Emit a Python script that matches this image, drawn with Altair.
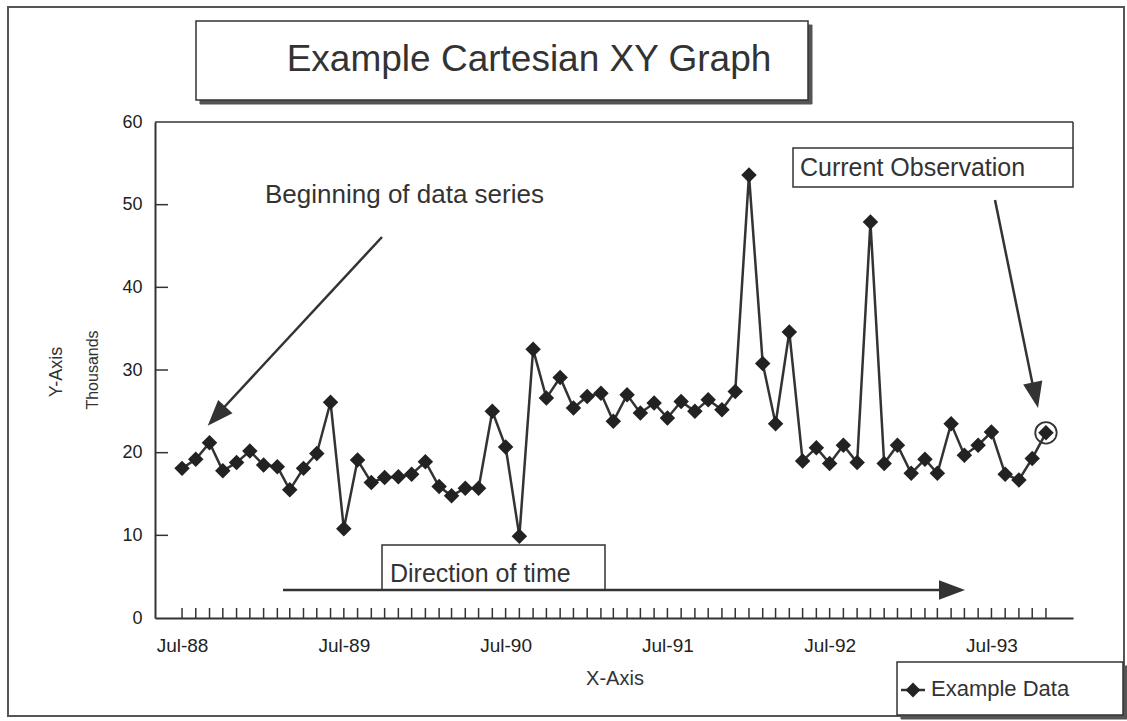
import altair as alt
import pandas as pd

# Monthly observations (thousands), Jul-88 .. Nov-93
values = [
    18.1, 19.2, 21.2, 17.8, 18.8, 20.2, 18.5, 18.3, 15.5, 18.1, 19.9, 26.1,
    10.8, 19.1, 16.4, 17.0, 17.1, 17.4, 18.9, 15.9, 14.8, 15.7, 15.7, 25.0,
    20.7, 9.9, 32.5, 26.6, 29.1, 25.4, 26.8, 27.2, 23.8, 27.0, 24.8, 26.0,
    24.2, 26.2, 25.0, 26.4, 25.2, 27.4, 53.6, 30.8, 23.5, 34.6, 19.0, 20.6,
    18.7, 20.9, 18.8, 47.9, 18.7, 20.9, 17.5, 19.2, 17.5, 23.5, 19.7, 20.9,
    22.5, 17.4, 16.7, 19.3, 22.4,
]
first_month = "1988-07-01"
label_years = [1988, 1989, 1990, 1991, 1992, 1993]
y_ticks = [0, 10, 20, 30, 40, 50, 60]
y_inner_ticks = [10, 20, 30, 40, 50]

months = pd.date_range(first_month, periods=len(values), freq="MS").strftime("%Y-%m-%dT00:00:00")
df = pd.DataFrame({"month": months, "value": values})
last = df.tail(1)

W, H = 918, 496
INK = "#333333"
FONT = "Liberation Sans"

one = alt.Data(values=[{"k": 0}])

x_enc = alt.X(
    "month:T",
    scale=alt.Scale(domain=[alt.DateTime(year=1988, month=5, date=1),
                            alt.DateTime(year=1994, month=1, date=1)]),
    axis=alt.Axis(
        values=[alt.DateTime(year=y, month=7, date=1) for y in label_years],
        format="%b-%y", labelPadding=18, ticks=False, tickSize=0,
        labelOverlap=False, labelFlush=False, title=None,
        labelFontSize=19,
    ),
)
y_enc = alt.Y(
    "value:Q",
    scale=alt.Scale(domain=[0, 60], nice=False),
    axis=alt.Axis(values=y_ticks, labelPadding=13, ticks=False, tickSize=0,
                  title=None, labelFontSize=18),
)


def box(x, x2, y, y2, fill="white", stroke=INK, sw=1.5):
    return alt.Chart(one).mark_rect(fill=fill, stroke=stroke, strokeWidth=sw).encode(
        x=alt.value(x), x2=alt.value(x2), y=alt.value(y), y2=alt.value(y2))


def seg(x, y, x2, y2, sw=2.5, color=INK):
    return alt.Chart(one).mark_rule(color=color, strokeWidth=sw).encode(
        x=alt.value(x), y=alt.value(y), x2=alt.value(x2), y2=alt.value(y2))


def label(text, x, y, size, align="left", angle=0):
    return alt.Chart(one).mark_text(
        text=text, font=FONT, fontSize=size, color=INK, align=align,
        baseline="middle", angle=angle,
    ).encode(x=alt.value(x), y=alt.value(y))


ARROW = "M0,0L-2,-0.75L-2,0.75Z"


def head(x, y, angle):
    return alt.Chart(one).mark_point(
        shape=ARROW, filled=True, color=INK, size=676, angle=angle, opacity=1,
    ).encode(x=alt.value(x), y=alt.value(y))


# outer frame of the whole sheet
frame = alt.Chart(one).mark_rect(fill=None, stroke="#555555", strokeWidth=2).encode(
    x=alt.value(-147), x2=alt.value(969), y=alt.value(-115), y2=alt.value(594))

# title panel with drop shadow
title_shadow = box(45, 657, -97, -18, fill="#555555", stroke="#555555", sw=1)
title_box = box(41, 653, -101, -22)
title_text = label("Example Cartesian XY Graph", 374, -62, 37, align="center")

# plot-area top border and right edge
top_border = seg(0, 0, W, 0, sw=1.5)
right_border = seg(W, 0, W, 26, sw=1.5)

base = alt.Chart(df).encode(x=x_enc, y=y_enc)
series_line = base.mark_line(color=INK, strokeWidth=2.5)
series_pts = base.mark_point(shape="diamond", filled=True, color="#222222", size=240, opacity=1)

x_ticks = alt.Chart(df).mark_rule(color=INK, strokeWidth=1.5).encode(
    x="month:T", y=alt.value(H), y2=alt.value(H - 10))
y_tick_df = pd.DataFrame({"value": y_inner_ticks})
y_tick_marks = alt.Chart(y_tick_df).mark_rule(color=INK, strokeWidth=1.5).encode(
    y="value:Q", x=alt.value(0), x2=alt.value(13))

current_ring = alt.Chart(last).mark_point(
    shape="circle", filled=False, color=INK, size=460, strokeWidth=1.8, opacity=1,
).encode(x="month:T", y="value:Q")

# annotations
begin_text = label("Beginning of data series", 110, 73, 26)
begin_line = seg(227, 115, 61, 294)
begin_head = head(52.7, 303.7, 132.7)

dir_box = box(227, 450, 423, 468)
dir_text = label("Direction of time", 235, 452, 25)
dir_line = seg(128, 468, 795, 468)
dir_head = head(810, 468, 0)

cur_box = box(638, W, 26, 65)
cur_text = label("Current Observation", 645, 46, 25)
cur_line = seg(840, 78, 880, 274)
cur_head = head(883, 286, 78.3)

# axis titles
x_title = label("X-Axis", 460, 557, 20, align="center")
y_title = label("Y-Axis", -98, 250, 18, align="center", angle=270)
y_units = label("Thousands", -62, 248, 16, align="center", angle=270)

# legend
leg_shadow = box(746, 972, 544, 597, fill="#555555", stroke="#555555", sw=1)
leg_box = box(742, 968, 540, 593)
leg_line = seg(746, 568, 770, 568, sw=2.5)
leg_pt = alt.Chart(one).mark_point(
    shape="diamond", filled=True, color="#222222", size=220, opacity=1,
).encode(x=alt.value(758), y=alt.value(568))
leg_text = label("Example Data", 776, 567, 22)

chart = alt.layer(
    frame, title_shadow, title_box, title_text,
    top_border, right_border,
    x_ticks, y_tick_marks,
    series_line, series_pts, current_ring,
    dir_box, dir_text, dir_line, dir_head,
    begin_text, begin_line, begin_head,
    cur_box, cur_text, cur_line, cur_head,
    x_title, y_title, y_units,
    leg_shadow, leg_box, leg_line, leg_pt, leg_text,
).properties(
    width=W, height=H,
    autosize=alt.AutoSizeParams(type="none"),
    padding={"left": 155, "top": 122, "right": 54, "bottom": 103},
).configure_view(
    stroke=None,
).configure_axis(
    labelFont=FONT, labelColor="#222222",
    domainColor=INK, domainWidth=2, grid=False,
)

chart.save("out.html", embed_options={"renderer": "svg", "actions": False})
